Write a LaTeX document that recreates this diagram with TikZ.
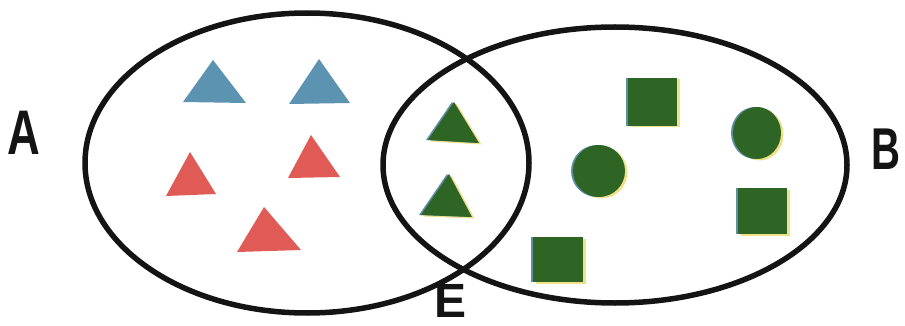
\documentclass[tikz,border=0pt]{standalone}
\usepackage{fontspec}
\setsansfont{Liberation Sans}
\definecolor{cInk}{HTML}{141414}
\definecolor{cSky}{HTML}{5B93B1}
\definecolor{cCoral}{HTML}{E05B56}
\definecolor{cLeaf}{HTML}{2F6524}
\definecolor{cRim}{HTML}{F1E08A}
\definecolor{cEdge}{HTML}{5D8EA8}
\tikzset{
  setline/.style={draw=cInk,line width=5.5pt},
  setlbl/.style={font=\sffamily\bfseries\fontsize{#1}{#1}\selectfont,text=cInk,inner sep=0pt,transform shape},
  setlbl/.default=62,
}
% green pieces carry a yellow and a blue misprint edge
\newcommand{\inked}[1]{%
  \fill[cRim,shift={(2.5,1.5)}] #1;
  \fill[cEdge,shift={(-2,0)}] #1;
  \fill[cLeaf] #1;}

\begin{document}
\begin{tikzpicture}[x=1pt,y=-1pt]
  \useasboundingbox[fill=white] (0,0) rectangle (905,326);
  % the two sets
  \draw[setline] (307,163) ellipse [x radius=222, y radius=150];
  \draw[setline] (615,165) ellipse [x radius=232, y radius=138];
  % set labels
  \node[setlbl=63,xscale=0.72] (labA) at (24,133) {A};
  \node[setlbl=59,xscale=0.68] (labB) at (886,149) {B};
  \node[setlbl=48,xscale=1.0] (labE) at (451,301) {E};
  % only in A
  \fill[cSky] (213,60) -- (183,102) -- (246,103) -- cycle;
  \fill[cSky] (319,59) -- (289,104) -- (350,103) -- cycle;
  \fill[cCoral] (190,152) -- (166,196) -- (216,194) -- cycle;
  \fill[cCoral] (311,135) -- (288,178) -- (340,177) -- cycle;
  \fill[cCoral] (264,207) -- (237,252) -- (301,250) -- cycle;
  % in A and B
  \inked{(454,102) -- (428,140) -- (479,143) -- cycle}
  \inked{(449,174) -- (421,215) -- (472,217) -- cycle}
  % only in B
  \inked{(628,78) rectangle (677,126)}
  \inked{(738,188) rectangle (787,234)}
  \inked{(533,237) rectangle (583,282)}
  \inked{(599,171) circle [radius=26]}
  \inked{(757,133) ellipse [x radius=24, y radius=26]}
\end{tikzpicture}
\end{document}
